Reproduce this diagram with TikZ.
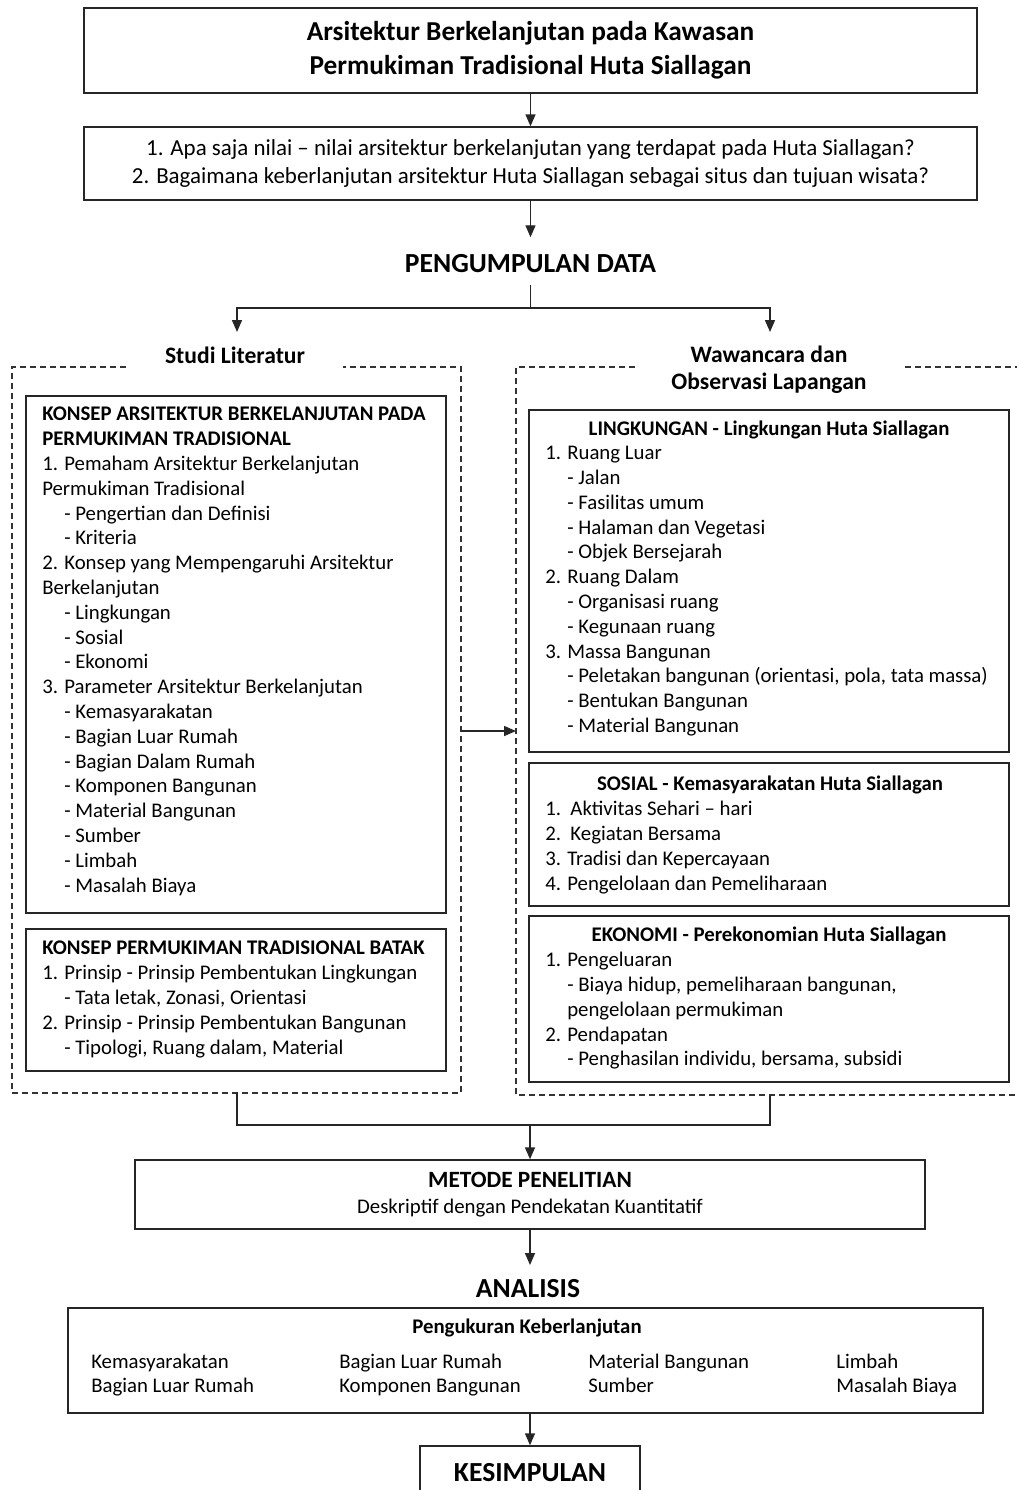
\documentclass[tikz,border=0pt]{standalone}
\usepackage{fontspec}
\setmainfont{Carlito}
\usetikzlibrary{arrows.meta}
\newcommand\myind{\hspace*{16.5pt}}
\begin{document}
\begin{tikzpicture}[x=0.75pt,y=-0.75pt,
 box/.style={draw=black!85,line width=1.1pt,inner sep=0pt},
 dbox/.style={draw=black!80,line width=0.9pt,dash pattern=on 4.5pt off 3pt},
 ln/.style={draw=black!85,line width=1.1pt},
 arr/.style={ln,-{Triangle[length=9pt,width=7.5pt]}},
 body/.style={font=\fontsize{15.6}{18.6}\selectfont,inner sep=0pt,align=left,anchor=north west},
 head/.style={font=\fontsize{15.6}{18.6}\selectfont\bfseries,inner sep=0pt},
 big/.style={font=\fontsize{20.7}{24}\selectfont\bfseries,inner sep=0pt},
 lbl/.style={font=\fontsize{17.7}{20.25}\selectfont\bfseries,inner sep=0pt,align=center},
]
\useasboundingbox (0,0) rectangle (1017,1490);
\fill[white] (0,0) rectangle (1017,1490);

% top
\node[box,minimum width=669.75pt,minimum height=63.75pt,align=center,font=\fontsize{20.5}{25.5}\selectfont\bfseries] (title) at (530.5,50.5) {Arsitektur Berkelanjutan pada Kawasan\\Permukiman Tradisional Huta Siallagan};
\node[box,minimum width=669.75pt,minimum height=54.75pt,align=center,font=\fontsize{17.2}{21}\selectfont] (q) at (530.5,163.5) {1. Apa saja nilai – nilai arsitektur berkelanjutan yang terdapat pada Huta Siallagan?\\2. Bagaimana keberlanjutan arsitektur Huta Siallagan sebagai situs dan tujuan wisata?};
\draw[arr] (title.south) -- (q.north);

\node[big] (pd) at (530.5,264) {PENGUMPULAN DATA};
\draw[arr,shorten >=13pt] (q.south) -- (pd.north);
\coordinate (sp) at (530.5,308);
\draw[ln,shorten <=9pt] (pd.south) -- (sp);

\node[lbl] (sl) at (235,355) {Studi Literatur};
\node[lbl] (wo) at (769,370) {Wawancara dan\\Observasi Lapangan};
\draw[arr] (sp) -| (237,332);
\draw[arr] (sp) -| (770,332);

% dashed frames
\draw[dbox] (126,367) -- (12,367) -- (12,1093) -- (461,1093) -- (461,367) -- (343,367);
\draw[dbox] (635,367) -- (516,367) -- (516,1095) -- (1030,1095);
\draw[dbox] (905,367) -- (1030,367);
\coordinate (ldE) at (461,731);
\coordinate (rdW) at (516,731);
\coordinate (ldS) at (237,1093);
\coordinate (rdS) at (770,1095);
\draw[arr] (ldE) -- (rdW);

% left boxes
\node[box,minimum width=315pt,minimum height=387.75pt] (lb1) at (236,654.5) {};
\node[body] (lb1t) at (42,407) {\textbf{KONSEP ARSITEKTUR BERKELANJUTAN PADA}\\
\textbf{PERMUKIMAN TRADISIONAL}\\
1. Pemaham Arsitektur Berkelanjutan\\
Permukiman Tradisional\\
\myind- Pengertian dan Definisi\\
\myind- Kriteria\\
2. Konsep yang Mempengaruhi Arsitektur\\
Berkelanjutan\\
\myind- Lingkungan\\
\myind- Sosial\\
\myind- Ekonomi\\
3. Parameter Arsitektur Berkelanjutan\\
\myind- Kemasyarakatan\\
\myind- Bagian Luar Rumah\\
\myind- Bagian Dalam Rumah\\
\myind- Komponen Bangunan\\
\myind- Material Bangunan\\
\myind- Sumber\\
\myind- Limbah\\
\myind- Masalah Biaya};

\node[box,minimum width=315pt,minimum height=106.5pt] (lb2) at (236,1000) {};
\node[body] (lb2t) at (42,941) {\textbf{KONSEP PERMUKIMAN TRADISIONAL BATAK}\\
1. Prinsip - Prinsip Pembentukan Lingkungan\\
\myind- Tata letak, Zonasi, Orientasi\\
2. Prinsip - Prinsip Pembentukan Bangunan\\
\myind- Tipologi, Ruang dalam, Material};

% right boxes
\node[box,minimum width=360pt,minimum height=256.5pt] (rb1) at (769,581) {};
\node[head] (rb1h) at (769,430) {LINGKUNGAN - Lingkungan Huta Siallagan};
\node[body] (rb1t) at (545,446) {1. Ruang Luar\\
\myind- Jalan\\
\myind- Fasilitas umum\\
\myind- Halaman dan Vegetasi\\
\myind- Objek Bersejarah\\
2. Ruang Dalam\\
\myind- Organisasi ruang\\
\myind- Kegunaan ruang\\
3. Massa Bangunan\\
\myind- Peletakan bangunan (orientasi, pola, tata massa)\\
\myind- Bentukan Bangunan\\
\myind- Material Bangunan};

\node[box,minimum width=360pt,minimum height=107.25pt] (rb2) at (769,834.5) {};
\node[head] (rb2h) at (770,785) {SOSIAL - Kemasyarakatan Huta Siallagan};
\node[body] (rb2t) at (545,801) {1.\ \ Aktivitas Sehari – hari\\
2.\ \ Kegiatan Bersama\\
3. Tradisi dan Kepercayaan\\
4. Pengelolaan dan Pemeliharaan};

\node[box,minimum width=360pt,minimum height=124.5pt] (rb3) at (769,999) {};
\node[head] (rb3h) at (769,936) {EKONOMI - Perekonomian Huta Siallagan};
\node[body] (rb3t) at (545,952) {1. Pengeluaran\\
\myind- Biaya hidup, pemeliharaan bangunan,\\
\myind pengelolaan permukiman\\
2. Pendapatan\\
\myind- Penghasilan individu, bersama, subsidi};

% merge
\coordinate (mg) at (530,1125);
\draw[ln] (ldS) |- (mg) -| (rdS);
\node[box,minimum width=592.5pt,minimum height=51.75pt,align=center,font=\fontsize{15.6}{19.5}\selectfont] (met) at (530,1194.5) {{\fontsize{17.5}{19.5}\selectfont\bfseries METODE PENELITIAN}\\Deskriptif dengan Pendekatan Kuantitatif};
\draw[arr] (mg) -- (met.north);

\node[big] (an) at (528,1289) {ANALISIS};
\draw[arr] (met.south) -- (530,1265);

\node[box,minimum width=686.25pt,minimum height=78.75pt] (ab) at (525.5,1360.5) {};
\node[head] (pk) at (527,1328) {Pengukuran Keberlanjutan};
\node[body,font=\fontsize{15.6}{18}\selectfont] (c1) at (91,1354) {Kemasyarakatan\\Bagian Luar Rumah};
\node[body,font=\fontsize{15.6}{18}\selectfont] (c2) at (339,1354) {Bagian Luar Rumah\\Komponen Bangunan};
\node[body,font=\fontsize{15.6}{18}\selectfont] (c3) at (588,1354) {Material Bangunan\\Sumber};
\node[body,font=\fontsize{15.6}{18}\selectfont] (c4) at (836,1354) {Limbah\\Masalah Biaya};

\node[box,minimum width=165pt,minimum height=40.5pt,font=\fontsize{20.7}{24}\selectfont\bfseries] (kes) at (530,1473) {KESIMPULAN};
\draw[arr] (ab.south -| kes.north) -- (kes.north);
\end{tikzpicture}
\end{document}
